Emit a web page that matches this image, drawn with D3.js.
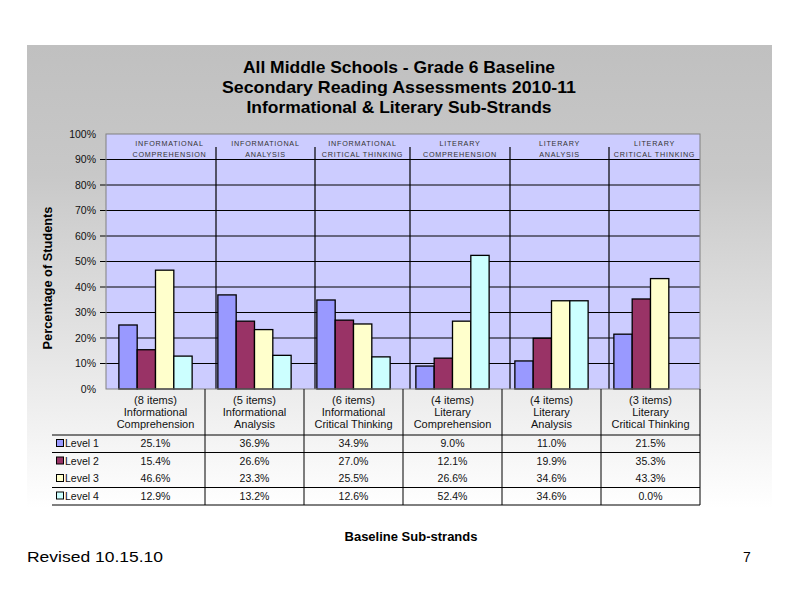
<!DOCTYPE html>
<html><head><meta charset="utf-8">
<script src="https://cdn.jsdelivr.net/npm/d3@7"></script>
<style>body{margin:0;background:#fff}svg{display:block}text{font-family:"Liberation Sans",Arial,sans-serif}</style>
</head><body><svg id="c" width="800" height="600"></svg>
<script>
const categories = ["Informational Comprehension","Informational Analysis","Informational Critical Thinking","Literary Comprehension","Literary Analysis","Literary Critical Thinking"];
const itemCounts = ["(8 items)","(5 items)","(6 items)","(4 items)","(4 items)","(3 items)"];
const catLine1 = ["Informational","Informational","Informational","Literary","Literary","Literary"];
const catLine2 = ["Comprehension","Analysis","Critical Thinking","Comprehension","Analysis","Critical Thinking"];
const headerLine1 = ["INFORMATIONAL","INFORMATIONAL","INFORMATIONAL","LITERARY","LITERARY","LITERARY"];
const headerLine2 = ["COMPREHENSION","ANALYSIS","CRITICAL THINKING","COMPREHENSION","ANALYSIS","CRITICAL THINKING"];
const seriesNames = ["Level 1","Level 2","Level 3","Level 4"];
const level1 = [25.1, 36.9, 34.9, 9.0, 11.0, 21.5];
const level2 = [15.4, 26.6, 27.0, 12.1, 19.9, 35.3];
const level3 = [46.6, 23.3, 25.5, 26.6, 34.6, 43.3];
const level4 = [12.9, 13.2, 12.6, 52.4, 34.6, 0.0];
const yTicks = [0,10,20,30,40,50,60,70,80,90,100];
const colors = ["#9999ff","#993366","#ffffcc","#ccffff"];
const series = [level1, level2, level3, level4];

const svg = d3.select("#c");
const defs = svg.append("defs");
const g = defs.append("linearGradient").attr("id","bg").attr("x1",0).attr("y1",0).attr("x2",0).attr("y2",1);
g.append("stop").attr("offset","0%").attr("stop-color","#c0c0c0");
g.append("stop").attr("offset","28%").attr("stop-color","#c8c8c8");
g.append("stop").attr("offset","100%").attr("stop-color","#ffffff");
svg.append("rect").attr("x",27).attr("y",45).attr("width",745).attr("height",463).attr("fill","url(#bg)");

// titles
const titles = ["All Middle Schools - Grade 6 Baseline","Secondary Reading Assessments 2010-11","Informational & Literary Sub-Strands"];
const titleW = [312, 354, 305];
svg.selectAll(".title").data(titles).join("text")
  .attr("x",399).attr("y",(d,i)=>73+i*20).attr("text-anchor","middle")
  .attr("font-size",17).attr("font-weight","bold").attr("fill","#000")
  .attr("textLength",(d,i)=>titleW[i]).attr("lengthAdjust","spacingAndGlyphs").text(d=>d);

const L=106, R=700, T=134, B=389;
const x = d3.scaleBand().domain(categories).range([L,R]);
const y = d3.scaleLinear().domain([0,100]).range([B,T]);
const groupPad = 0.13;
const x1 = d3.scaleBand().domain(seriesNames).range([x.bandwidth()*groupPad, x.bandwidth()*(1-groupPad)]);

svg.append("rect").attr("x",L).attr("y",T).attr("width",R-L).attr("height",B-T).attr("fill","#ccccff");
// gridlines
svg.append("g").selectAll("line").data(yTicks.filter(t=>t>0&&t<100)).join("line")
  .attr("x1",L-6).attr("x2",R).attr("y1",d=>y(d)).attr("y2",d=>y(d)).attr("stroke","#000").attr("stroke-width",1);
// header dividers (text boxes)
const divOffsets = [11,11,7,8,8];
const dividerTop = 147;
svg.append("g").selectAll("line").data(categories.slice(1)).join("line")
  .attr("x1",(d,i)=>x(d)+divOffsets[i]).attr("x2",(d,i)=>x(d)+divOffsets[i])
  .attr("y1",dividerTop).attr("y2",B).attr("stroke","#000").attr("stroke-width",1.2);
// header labels
const hdr = svg.append("g").attr("font-size",7.2).attr("fill","#333").attr("text-anchor","middle");
categories.forEach((c,i)=>{
  const cx = x(c)+x.bandwidth()/2 + (i===0?14:(i<5?(divOffsets[i-1]+ (divOffsets[i]||0))/2: divOffsets[4]/2));
  hdr.append("text").attr("x",cx).attr("y",146).attr("letter-spacing",0.75).text(headerLine1[i]);
  hdr.append("text").attr("x",cx).attr("y",157).attr("letter-spacing",0.75).text(headerLine2[i]);
});
// bars
series.forEach((vals,si)=>{
  svg.append("g").selectAll("rect").data(vals.map((v,i)=>({v,c:categories[i]})).filter(d=>d.v>0)).join("rect")
    .attr("x",d=>x(d.c)+x1(seriesNames[si])).attr("width",x1.bandwidth())
    .attr("y",d=>y(d.v)).attr("height",d=>B-y(d.v))
    .attr("fill",colors[si]).attr("stroke","#000").attr("stroke-width",1.3);
});
svg.append("rect").attr("x",L).attr("y",T).attr("width",R-L).attr("height",B-T).attr("fill","none").attr("stroke","#808080").attr("stroke-width",1);

// y axis labels
svg.append("g").selectAll("text").data(yTicks).join("text")
  .attr("x",96).attr("y",d=>y(d)+3.5).attr("text-anchor","end").attr("font-size",10.5).attr("fill","#111")
  .text(d=>d+"%");
svg.append("text").attr("transform","translate(52,278) rotate(-90)").attr("text-anchor","middle")
  .attr("font-size",12.8).attr("font-weight","bold").text("Percentage of Students");

// data table
const tb = svg.append("g").attr("font-size",11).attr("fill","#111").attr("text-anchor","middle");
categories.forEach((c,i)=>{
  const cx = x(c)+x.bandwidth()/2;
  tb.append("text").attr("x",cx).attr("y",404).text(itemCounts[i]);
  tb.append("text").attr("x",cx).attr("y",416).text(catLine1[i]);
  tb.append("text").attr("x",cx).attr("y",428).text(catLine2[i]);
});
const rowTop = 435, rowH = 17.5;
series.forEach((vals,si)=>{
  const ry = rowTop + si*rowH + 12;
  vals.forEach((v,i)=>{
    tb.append("text").attr("x",x(categories[i])+x.bandwidth()/2).attr("y",ry).attr("font-size",10.5).text(v.toFixed(1)+"%");
  });
  svg.append("rect").attr("x",56.5).attr("y",ry-7.5).attr("width",7).attr("height",7)
    .attr("fill",colors[si]).attr("stroke","#000").attr("stroke-width",1);
  svg.append("text").attr("x",65).attr("y",ry).attr("font-size",10.5).attr("fill","#111").text(seriesNames[si]);
});
const hLines = [0,1,3,4];
svg.append("g").selectAll("line").data(hLines).join("line")
  .attr("x1",52).attr("x2",R).attr("y1",d=>rowTop+d*rowH).attr("y2",d=>rowTop+d*rowH)
  .attr("stroke","#000").attr("stroke-width",1);
svg.append("g").selectAll("line").data(categories.slice(1)).join("line")
  .attr("x1",d=>x(d)).attr("x2",d=>x(d)).attr("y1",B).attr("y2",rowTop+4*rowH)
  .attr("stroke","#000").attr("stroke-width",1);
svg.append("line").attr("x1",R).attr("x2",R).attr("y1",B).attr("y2",rowTop+4*rowH).attr("stroke","#000");

svg.append("text").attr("x",411).attr("y",541).attr("text-anchor","middle").attr("font-size",13).attr("font-weight","bold")
  .attr("textLength",133).attr("lengthAdjust","spacingAndGlyphs").text("Baseline Sub-strands");
svg.append("text").attr("x",27).attr("y",562).attr("font-size",14).attr("textLength",136).attr("lengthAdjust","spacingAndGlyphs").text("Revised  10.15.10");
svg.append("text").attr("x",743).attr("y",562).attr("font-size",14).text("7");
</script></body></html>
